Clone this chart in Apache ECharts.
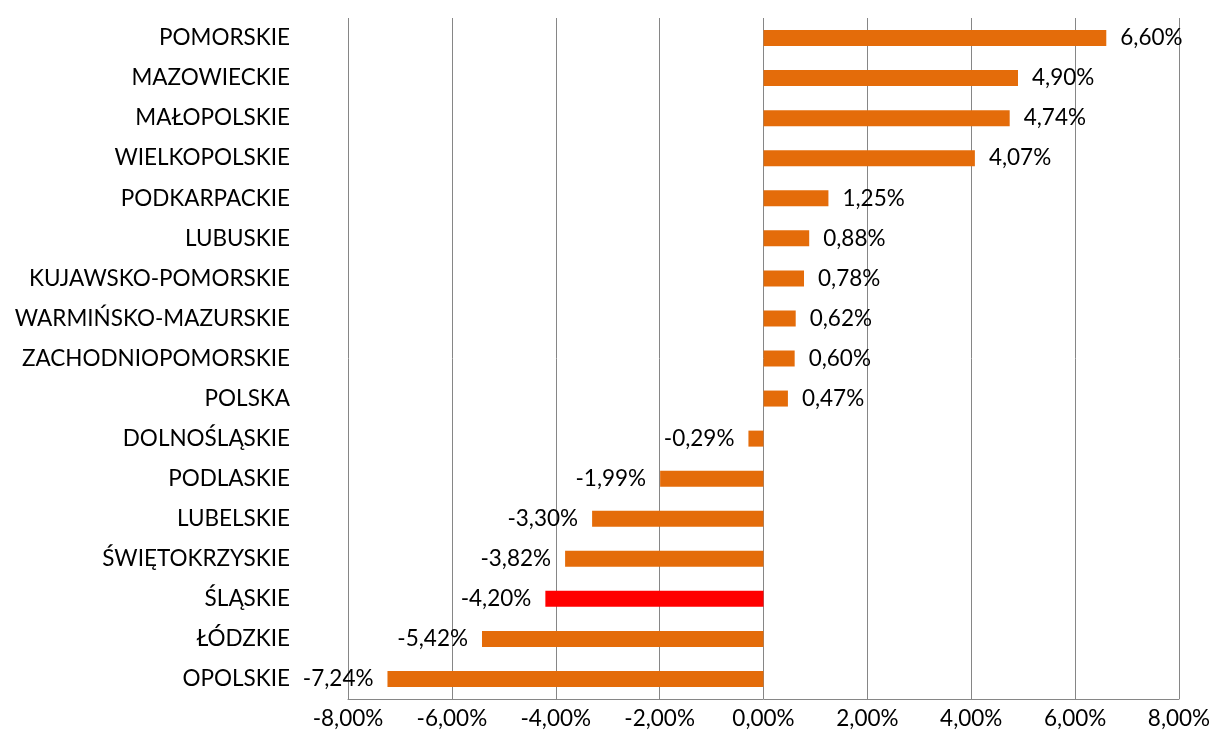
<!DOCTYPE html>
<html>
<head>
<meta charset="utf-8">
<script src="https://cdn.jsdelivr.net/npm/echarts@6/dist/echarts.min.js"></script>
<style>
  html, body { margin: 0; padding: 0; background: #fff; }
  #main { width: 1216px; height: 745px; }
</style>
</head>
<body>
<div id="main"></div>
<script>
// regions, bottom to top as drawn on the category axis
var regions = [
  "OPOLSKIE", "ŁÓDZKIE", "ŚLĄSKIE", "ŚWIĘTOKRZYSKIE", "LUBELSKIE", "PODLASKIE",
  "DOLNOŚLĄSKIE", "POLSKA", "ZACHODNIOPOMORSKIE", "WARMIŃSKO-MAZURSKIE",
  "KUJAWSKO-POMORSKIE", "LUBUSKIE", "PODKARPACKIE", "WIELKOPOLSKIE",
  "MAŁOPOLSKIE", "MAZOWIECKIE", "POMORSKIE"
];
var changes = [
  -7.24, -5.42, -4.20, -3.82, -3.30, -1.99,
  -0.29, 0.47, 0.60, 0.62,
  0.78, 0.88, 1.25, 4.07,
  4.74, 4.90, 6.60
];
var highlighted = "ŚLĄSKIE";

var font = "Lato, 'Open Sans', sans-serif";
var fmt = function (v) { return v.toFixed(2).replace(".", ",") + "%"; };

var chart = echarts.init(document.getElementById("main"));

var barData = changes.map(function (v, i) {
  return {
    value: v,
    itemStyle: { color: regions[i] === highlighted ? "#FF0000" : "#E46C0A" },
    label: { position: v < 0 ? "left" : "right" }
  };
});

chart.setOption({
  animation: false,
  grid: { left: 348, right: 37, top: 18, bottom: 46, containLabel: false },
  xAxis: {
    type: "value",
    min: -8,
    max: 8,
    interval: 2,
    axisLine: { show: true, onZero: false, lineStyle: { color: "#868686", width: 1 } },
    axisTick: { show: false },
    splitLine: { show: true, lineStyle: { color: "#868686", width: 1 } },
    axisLabel: {
      formatter: fmt,
      color: "#000",
      fontFamily: font,
      fontSize: 22.5,
      margin: 8
    }
  },
  yAxis: {
    type: "category",
    data: regions,
    axisLine: { show: false },
    axisTick: { show: false },
    splitLine: { show: false },
    axisLabel: {
      color: "#000",
      fontFamily: font,
      fontSize: 22.5,
      margin: 58
    }
  },
  series: [{
    type: "bar",
    data: barData,
    barWidth: 16,
    label: {
      show: true,
      color: "#000",
      fontFamily: font,
      fontSize: 22.5,
      distance: 14,
      formatter: function (p) { return fmt(p.value); }
    }
  }]
});
</script>
</body>
</html>
